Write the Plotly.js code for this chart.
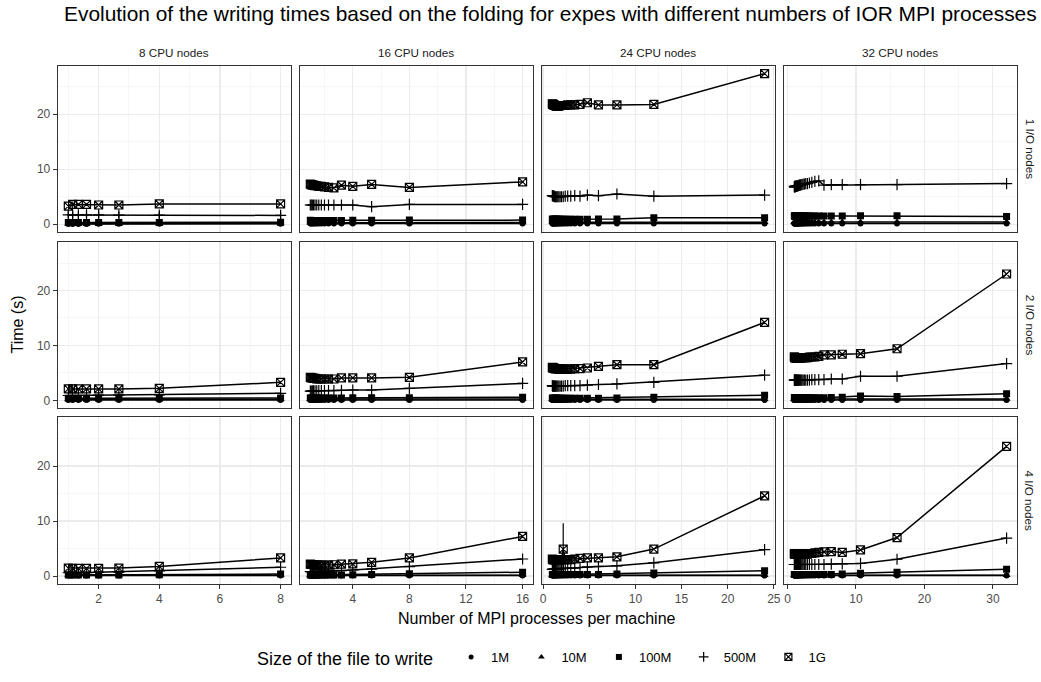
<!DOCTYPE html>
<html><head><meta charset="utf-8">
<script src="https://cdn.plot.ly/plotly-3.0.1.min.js"></script>
<style>body{margin:0;background:#fff}#chart{width:1041px;height:682px}</style>
</head><body><div id="chart"></div>
<script>
// ---------- categories ----------
const sizeLabels = ['1M', '10M', '100M', '500M', '1G'];
const cpuNodes = [8, 16, 24, 32];
const ioNodes = [1, 2, 4];
const colLabels = ['8 CPU nodes', '16 CPU nodes', '24 CPU nodes', '32 CPU nodes'];
const rowLabels = ['1 I/O nodes', '2 I/O nodes', '4 I/O nodes'];

// ---------- x values: MPI processes per machine ----------
const x8 = [8, 4, 2.667, 2, 1.6, 1.333, 1.143, 1];
const x16 = [16, 8, 5.333, 4, 3.2, 2.667, 2.286, 2, 1.778, 1.6, 1.455, 1.333, 1.231, 1.143, 1.067, 1];
const x24 = [24, 12, 8, 6, 4.8, 4, 3.429, 3, 2.667, 2.4, 2.182, 2, 1.846, 1.714, 1.6, 1.5, 1.412, 1.333, 1.263, 1.2, 1.143, 1.091, 1.043, 1];
const x32 = [32, 16, 10.667, 8, 6.4, 5.333, 4.571, 4, 3.556, 3.2, 2.909, 2.667, 2.462, 2.286, 2.133, 2, 1.882, 1.778, 1.684, 1.6, 1.524, 1.455, 1.391, 1.333, 1.28, 1.231, 1.185, 1.143, 1.103, 1.067, 1.032, 1];

// ---------- times (s), 1 I/O node ----------
const io1_cpu8_1M = [0.08, 0.07, 0.07, 0.07, 0.06, 0.06, 0.06, 0.06];
const io1_cpu8_10M = [0.12, 0.11, 0.1, 0.1, 0.1, 0.1, 0.1, 0.1];
const io1_cpu8_100M = [0.35, 0.33, 0.32, 0.3, 0.3, 0.3, 0.3, 0.3];
const io1_cpu8_500M = [1.6, 1.65, 1.65, 1.7, 1.7, 1.7, 1.7, 1.7];
const io1_cpu8_1G = [3.7, 3.7, 3.5, 3.5, 3.6, 3.6, 3.6, 3.3];

const io1_cpu16_1M = [0.15, 0.13, 0.12, 0.12, 0.12, 0.12, 0.12, 0.12, 0.12, 0.12, 0.12, 0.12, 0.12, 0.12, 0.12, 0.12];
const io1_cpu16_10M = [0.3, 0.28, 0.27, 0.27, 0.26, 0.26, 0.26, 0.26, 0.26, 0.26, 0.26, 0.26, 0.26, 0.26, 0.26, 0.26];
const io1_cpu16_100M = [0.75, 0.75, 0.72, 0.72, 0.7, 0.7, 0.7, 0.7, 0.7, 0.7, 0.7, 0.7, 0.7, 0.7, 0.7, 0.72];
const io1_cpu16_500M = [3.6, 3.6, 3.2, 3.5, 3.5, 3.5, 3.5, 3.5, 3.5, 3.5, 3.5, 3.5, 3.5, 3.5, 3.5, 3.5];
const io1_cpu16_1G = [7.7, 6.7, 7.25, 6.9, 7.1, 6.6, 6.7, 6.8, 6.9, 6.9, 7.0, 7.0, 7.1, 7.1, 7.2, 7.3];

const io1_cpu24_1M = [0.15, 0.15, 0.15, 0.15, 0.15, 0.15, 0.15, 0.15, 0.15, 0.15, 0.15, 0.15, 0.15, 0.15, 0.15, 0.15, 0.15, 0.15, 0.15, 0.15, 0.15, 0.15, 0.15, 0.15];
const io1_cpu24_10M = [0.35, 0.35, 0.35, 0.35, 0.35, 0.35, 0.35, 0.35, 0.35, 0.35, 0.35, 0.35, 0.35, 0.35, 0.35, 0.35, 0.35, 0.35, 0.35, 0.35, 0.35, 0.35, 0.35, 0.35];
const io1_cpu24_100M = [1.2, 1.2, 0.95, 0.95, 0.9, 0.9, 0.9, 0.9, 0.9, 0.9, 0.9, 0.9, 0.9, 0.9, 0.9, 0.9, 0.9, 0.9, 0.9, 0.9, 0.9, 0.9, 0.9, 0.9];
const io1_cpu24_500M = [5.3, 5.1, 5.5, 5.2, 5.3, 5.1, 5.2, 5.1, 5.1, 5.1, 5.0, 5.0, 5.0, 5.0, 5.0, 5.0, 5.0, 5.0, 5.0, 5.1, 5.1, 5.1, 5.2, 5.2];
const io1_cpu24_1G = [27.4, 21.8, 21.7, 21.7, 22.1, 21.8, 21.7, 21.7, 21.7, 21.6, 21.6, 21.6, 21.6, 21.5, 21.5, 21.5, 21.5, 21.6, 21.6, 21.7, 21.7, 21.8, 21.8, 21.9];

const io1_cpu32_1M = [0.15, 0.15, 0.15, 0.15, 0.15, 0.15, 0.15, 0.15, 0.15, 0.15, 0.15, 0.15, 0.15, 0.15, 0.15, 0.15, 0.15, 0.15, 0.15, 0.15, 0.15, 0.15, 0.15, 0.15, 0.15, 0.15, 0.15, 0.15, 0.15, 0.15, 0.15, 0.15];
const io1_cpu32_10M = [0.4, 0.4, 0.4, 0.4, 0.4, 0.4, 0.4, 0.4, 0.4, 0.4, 0.4, 0.4, 0.4, 0.4, 0.4, 0.4, 0.4, 0.4, 0.4, 0.4, 0.4, 0.4, 0.4, 0.4, 0.4, 0.4, 0.4, 0.4, 0.4, 0.4, 0.4, 0.4];
const io1_cpu32_100M = [1.4, 1.55, 1.55, 1.5, 1.5, 1.5, 1.5, 1.5, 1.5, 1.5, 1.5, 1.5, 1.5, 1.5, 1.5, 1.5, 1.5, 1.5, 1.5, 1.5, 1.5, 1.5, 1.5, 1.5, 1.5, 1.5, 1.5, 1.5, 1.5, 1.5, 1.5, 1.5];
const io1_cpu32_500M = [7.4, 7.2, 7.2, 7.2, 7.2, 7.1, 7.9, 7.8, 7.6, 7.5, 7.4, 7.4, 7.3, 7.3, 7.2, 7.2, 7.1, 7.1, 7.1, 7.0, 7.0, 7.0, 6.9, 6.9, 7.0, 6.9, 6.9, 6.9, 6.8, 6.8, 6.8, 6.9];
const io1_cpu32_1G = [];

// ---------- times (s), 2 I/O nodes ----------
const io2_cpu8_1M = [0.1, 0.1, 0.1, 0.1, 0.1, 0.1, 0.1, 0.1];
const io2_cpu8_10M = [0.2, 0.2, 0.2, 0.2, 0.2, 0.2, 0.2, 0.2];
const io2_cpu8_100M = [0.45, 0.4, 0.4, 0.4, 0.4, 0.4, 0.4, 0.4];
const io2_cpu8_500M = [1.3, 1.0, 0.95, 0.95, 0.9, 0.9, 0.9, 0.9];
const io2_cpu8_1G = [3.3, 2.2, 2.1, 2.1, 2.1, 2.1, 2.1, 2.1];

const io2_cpu16_1M = [0.1, 0.1, 0.1, 0.1, 0.1, 0.1, 0.1, 0.1, 0.1, 0.1, 0.1, 0.1, 0.1, 0.1, 0.1, 0.1];
const io2_cpu16_10M = [0.25, 0.25, 0.25, 0.25, 0.25, 0.25, 0.25, 0.25, 0.25, 0.25, 0.25, 0.25, 0.25, 0.25, 0.25, 0.25];
const io2_cpu16_100M = [0.6, 0.5, 0.5, 0.5, 0.45, 0.45, 0.45, 0.45, 0.45, 0.45, 0.45, 0.45, 0.45, 0.45, 0.45, 0.45];
const io2_cpu16_500M = [3.1, 2.2, 1.9, 1.9, 1.85, 1.8, 1.8, 1.8, 1.8, 1.8, 1.75, 1.75, 1.75, 1.75, 1.7, 1.7];
const io2_cpu16_1G = [7.0, 4.2, 4.1, 4.1, 4.1, 3.9, 3.9, 3.9, 3.9, 3.9, 3.9, 4.0, 4.0, 4.1, 4.1, 4.2];

const io2_cpu24_1M = [0.1, 0.1, 0.1, 0.1, 0.1, 0.1, 0.1, 0.1, 0.1, 0.1, 0.1, 0.1, 0.1, 0.1, 0.1, 0.1, 0.1, 0.1, 0.1, 0.1, 0.1, 0.1, 0.1, 0.1];
const io2_cpu24_10M = [0.2, 0.2, 0.2, 0.2, 0.2, 0.2, 0.2, 0.2, 0.2, 0.2, 0.2, 0.2, 0.2, 0.2, 0.2, 0.2, 0.2, 0.2, 0.2, 0.2, 0.2, 0.2, 0.2, 0.2];
const io2_cpu24_100M = [0.95, 0.6, 0.45, 0.4, 0.4, 0.4, 0.4, 0.4, 0.4, 0.4, 0.4, 0.4, 0.4, 0.4, 0.4, 0.4, 0.4, 0.4, 0.4, 0.4, 0.4, 0.4, 0.4, 0.4];
const io2_cpu24_500M = [4.6, 3.3, 3.0, 2.9, 2.8, 2.7, 2.7, 2.7, 2.7, 2.7, 2.6, 2.6, 2.6, 2.6, 2.6, 2.6, 2.6, 2.6, 2.6, 2.6, 2.6, 2.6, 2.6, 2.7];
const io2_cpu24_1G = [14.2, 6.5, 6.5, 6.2, 5.9, 5.8, 5.8, 5.7, 5.7, 5.7, 5.7, 5.7, 5.7, 5.7, 5.8, 5.8, 5.8, 5.8, 5.8, 5.9, 5.9, 5.9, 5.9, 6.0];

const io2_cpu32_1M = [0.1, 0.1, 0.1, 0.1, 0.1, 0.1, 0.1, 0.1, 0.1, 0.1, 0.1, 0.1, 0.1, 0.1, 0.1, 0.1, 0.1, 0.1, 0.1, 0.1, 0.1, 0.1, 0.1, 0.1, 0.1, 0.1, 0.1, 0.1, 0.1, 0.1, 0.1, 0.1];
const io2_cpu32_10M = [0.25, 0.25, 0.25, 0.25, 0.25, 0.25, 0.25, 0.25, 0.25, 0.25, 0.25, 0.25, 0.25, 0.25, 0.25, 0.25, 0.25, 0.25, 0.25, 0.25, 0.25, 0.25, 0.25, 0.25, 0.25, 0.25, 0.25, 0.25, 0.25, 0.25, 0.25, 0.25];
const io2_cpu32_100M = [1.2, 0.7, 0.8, 0.6, 0.55, 0.5, 0.5, 0.5, 0.5, 0.5, 0.5, 0.5, 0.5, 0.5, 0.5, 0.5, 0.5, 0.5, 0.5, 0.5, 0.5, 0.5, 0.5, 0.5, 0.5, 0.5, 0.5, 0.5, 0.5, 0.5, 0.5, 0.5];
const io2_cpu32_500M = [6.7, 4.4, 4.4, 3.9, 3.9, 3.8, 3.8, 3.8, 3.8, 3.7, 3.7, 3.7, 3.7, 3.7, 3.7, 3.7, 3.7, 3.7, 3.7, 3.7, 3.7, 3.7, 3.7, 3.7, 3.7, 3.7, 3.7, 3.7, 3.7, 3.7, 3.7, 3.7];
const io2_cpu32_1G = [23.0, 9.4, 8.5, 8.4, 8.3, 8.3, 8.0, 7.9, 7.9, 7.9, 7.8, 7.8, 7.8, 7.8, 7.8, 7.8, 7.8, 7.7, 7.7, 7.7, 7.7, 7.7, 7.7, 7.7, 7.7, 7.8, 7.8, 7.8, 7.8, 7.8, 7.9, 7.9];

// ---------- times (s), 4 I/O nodes ----------
const io4_cpu8_1M = [0.08, 0.08, 0.08, 0.08, 0.08, 0.08, 0.08, 0.08];
const io4_cpu8_10M = [0.15, 0.15, 0.15, 0.15, 0.15, 0.15, 0.15, 0.15];
const io4_cpu8_100M = [0.35, 0.25, 0.2, 0.2, 0.2, 0.2, 0.2, 0.2];
const io4_cpu8_500M = [1.6, 0.95, 0.7, 0.65, 0.6, 0.6, 0.6, 0.6];
const io4_cpu8_1G = [3.3, 1.75, 1.45, 1.4, 1.4, 1.4, 1.4, 1.45];

const io4_cpu16_1M = [0.08, 0.08, 0.08, 0.08, 0.08, 0.08, 0.08, 0.08, 0.08, 0.08, 0.08, 0.08, 0.08, 0.08, 0.08, 0.08];
const io4_cpu16_10M = [0.15, 0.15, 0.15, 0.15, 0.15, 0.15, 0.15, 0.15, 0.15, 0.15, 0.15, 0.15, 0.15, 0.15, 0.15, 0.15];
const io4_cpu16_100M = [0.7, 0.4, 0.3, 0.25, 0.2, 0.2, 0.2, 0.2, 0.2, 0.2, 0.2, 0.2, 0.2, 0.2, 0.2, 0.2];
const io4_cpu16_500M = [3.1, 1.7, 1.25, 1.1, 1.0, 0.95, 0.9, 0.9, 0.9, 0.85, 0.85, 0.85, 0.8, 0.8, 0.8, 0.8];
const io4_cpu16_1G = [7.2, 3.3, 2.5, 2.2, 2.15, 2.05, 2.0, 2.0, 2.0, 2.0, 2.0, 2.0, 2.05, 2.1, 2.1, 2.15];

const io4_cpu24_1M = [0.08, 0.08, 0.08, 0.08, 0.08, 0.08, 0.08, 0.08, 0.08, 0.08, 0.08, 0.08, 0.08, 0.08, 0.08, 0.08, 0.08, 0.08, 0.08, 0.08, 0.08, 0.08, 0.08, 0.08];
const io4_cpu24_10M = [0.15, 0.15, 0.15, 0.15, 0.15, 0.15, 0.15, 0.15, 0.15, 0.15, 0.15, 0.15, 0.15, 0.15, 0.15, 0.15, 0.15, 0.15, 0.15, 0.15, 0.15, 0.15, 0.15, 0.15];
const io4_cpu24_100M = [0.95, 0.55, 0.35, 0.3, 0.3, 0.3, 0.3, 0.3, 0.3, 0.3, 0.3, 0.3, 0.3, 0.3, 0.3, 0.3, 0.3, 0.3, 0.3, 0.3, 0.3, 0.3, 0.3, 0.3];
const io4_cpu24_500M = [4.8, 2.4, 1.85, 1.75, 1.65, 1.55, 1.45, 1.45, 1.4, 1.4, 1.4, 1.35, 1.35, 1.3, 1.3, 1.3, 1.3, 1.25, 1.25, 1.25, 1.2, 1.2, 1.2, 1.2];
const io4_cpu24_1G = [14.6, 4.9, 3.5, 3.3, 3.3, 3.2, 3.1, 3.0, 3.0, 3.0, 4.9, 3.0, 3.0, 3.0, 3.0, 3.0, 3.0, 3.0, 3.0, 3.0, 3.0, 3.0, 3.0, 3.1];

const io4_cpu32_1M = [0.08, 0.08, 0.08, 0.08, 0.08, 0.08, 0.08, 0.08, 0.08, 0.08, 0.08, 0.08, 0.08, 0.08, 0.08, 0.08, 0.08, 0.08, 0.08, 0.08, 0.08, 0.08, 0.08, 0.08, 0.08, 0.08, 0.08, 0.08, 0.08, 0.08, 0.08, 0.08];
const io4_cpu32_10M = [0.15, 0.15, 0.15, 0.15, 0.15, 0.15, 0.15, 0.15, 0.15, 0.15, 0.15, 0.15, 0.15, 0.15, 0.15, 0.15, 0.15, 0.15, 0.15, 0.15, 0.15, 0.15, 0.15, 0.15, 0.15, 0.15, 0.15, 0.15, 0.15, 0.15, 0.15, 0.15];
const io4_cpu32_100M = [1.25, 0.7, 0.5, 0.35, 0.3, 0.3, 0.3, 0.3, 0.3, 0.3, 0.3, 0.3, 0.3, 0.3, 0.3, 0.3, 0.3, 0.3, 0.3, 0.3, 0.3, 0.3, 0.3, 0.3, 0.3, 0.3, 0.3, 0.3, 0.3, 0.3, 0.3, 0.3];
const io4_cpu32_500M = [6.9, 3.05, 2.3, 2.2, 2.15, 2.1, 2.1, 2.1, 2.1, 2.1, 2.1, 2.1, 2.1, 2.1, 2.1, 2.1, 2.1, 2.1, 2.1, 2.1, 2.1, 2.1, 2.1, 2.1, 2.1, 2.1, 2.1, 2.1, 2.1, 2.1, 2.1, 2.1];
const io4_cpu32_1G = [23.6, 7.0, 4.75, 4.3, 4.45, 4.4, 4.3, 4.2, 4.1, 4.1, 4.0, 4.0, 4.0, 4.0, 4.0, 4.0, 4.0, 4.0, 4.0, 4.0, 4.0, 4.0, 4.0, 4.0, 4.0, 4.0, 4.0, 4.0, 4.0, 4.0, 4.0, 4.1];

// ---------- error bars (half-widths, s) where visible ----------
const io1_cpu8_500M_err = [0.6, 0.6, 0.6, 0.6, 0.6, 0.6, 0.6, 0.6];
const io4_cpu24_1G_err = [0, 0, 0, 0, 0, 0, 0, 0, 0, 0, 4.7, 0, 0, 0, 0, 0, 0, 0, 0, 0, 0, 0, 0, 0];

// ---------- assemble ----------
const xByCpu = {8: x8, 16: x16, 24: x24, 32: x32};
const panels = {
  io1_cpu8: [io1_cpu8_1M, io1_cpu8_10M, io1_cpu8_100M, io1_cpu8_500M, io1_cpu8_1G],
  io1_cpu16: [io1_cpu16_1M, io1_cpu16_10M, io1_cpu16_100M, io1_cpu16_500M, io1_cpu16_1G],
  io1_cpu24: [io1_cpu24_1M, io1_cpu24_10M, io1_cpu24_100M, io1_cpu24_500M, io1_cpu24_1G],
  io1_cpu32: [io1_cpu32_1M, io1_cpu32_10M, io1_cpu32_100M, io1_cpu32_500M, io1_cpu32_1G],
  io2_cpu8: [io2_cpu8_1M, io2_cpu8_10M, io2_cpu8_100M, io2_cpu8_500M, io2_cpu8_1G],
  io2_cpu16: [io2_cpu16_1M, io2_cpu16_10M, io2_cpu16_100M, io2_cpu16_500M, io2_cpu16_1G],
  io2_cpu24: [io2_cpu24_1M, io2_cpu24_10M, io2_cpu24_100M, io2_cpu24_500M, io2_cpu24_1G],
  io2_cpu32: [io2_cpu32_1M, io2_cpu32_10M, io2_cpu32_100M, io2_cpu32_500M, io2_cpu32_1G],
  io4_cpu8: [io4_cpu8_1M, io4_cpu8_10M, io4_cpu8_100M, io4_cpu8_500M, io4_cpu8_1G],
  io4_cpu16: [io4_cpu16_1M, io4_cpu16_10M, io4_cpu16_100M, io4_cpu16_500M, io4_cpu16_1G],
  io4_cpu24: [io4_cpu24_1M, io4_cpu24_10M, io4_cpu24_100M, io4_cpu24_500M, io4_cpu24_1G],
  io4_cpu32: [io4_cpu32_1M, io4_cpu32_10M, io4_cpu32_100M, io4_cpu32_500M, io4_cpu32_1G]
};
const errors = {
  io1_cpu8_500M: io1_cpu8_500M_err,
  io4_cpu24_1G: io4_cpu24_1G_err
};

// ---------- styles ----------
const W = 1041, H = 682;
const FONT = '"Liberation Sans", Arial, Helvetica, sans-serif';
const symbols = ['circle', 'triangle-up', 'square', 'cross-thin-open', 'square-x-open'];
const msize = [6, 7, 7, 8, 8];
const colL = [57.7, 299.7, 541.7, 783.7], colW = 233.5;
const rowT = [65.5, 241.7, 417.3], rowH = 166.3;
const xRanges = [[0.65, 8.35], [0.25, 16.75], [-0.15, 25.15], [-0.55, 33.55]];
const xDtick = [2, 4, 5, 10];
const yRange = [-1.375, 28.875];

const traces = [];
const layout = {
  width: W, height: H,
  margin: {l: 0, r: 0, t: 0, b: 0},
  paper_bgcolor: '#ffffff', plot_bgcolor: '#ffffff',
  font: {family: FONT, color: '#000000'},
  showlegend: true,
  legend: {
    orientation: 'h', x: 255 / W, xanchor: 'left', y: 1 - 659 / H, yanchor: 'middle',
    title: {text: 'Size of the file to write  ', side: 'left', font: {size: 18, family: FONT, color: '#000'}},
    font: {size: 13, family: FONT, color: '#000'},
    bgcolor: 'rgba(0,0,0,0)', itemsizing: 'trace', tracegroupgap: 0
  },
  annotations: []
};

ioNodes.forEach((io, r) => {
  cpuNodes.forEach((cpu, c) => {
    const p = r * 4 + c;
    const id = p + 1;
    const xa = id === 1 ? 'xaxis' : 'xaxis' + id;
    const ya = id === 1 ? 'yaxis' : 'yaxis' + id;
    const xref = id === 1 ? 'x' : 'x' + id;
    const yref = id === 1 ? 'y' : 'y' + id;
    layout[xa] = {
      domain: [colL[c] / W, (colL[c] + colW) / W], anchor: yref,
      range: xRanges[c], tick0: 0, dtick: xDtick[c],
      showticklabels: r === 2, ticks: r === 2 ? 'outside' : '', ticklen: 4, tickwidth: 1, tickcolor: '#333333',
      tickfont: {size: 12, color: '#4D4D4D', family: FONT},
      showgrid: true, gridcolor: '#EBEBEB', gridwidth: 1.2,
      minor: {dtick: xDtick[c] / 2, tick0: 0, showgrid: true, gridcolor: '#F2F2F2', gridwidth: 0.7},
      showline: true, mirror: true, linecolor: '#333333', linewidth: 1,
      zeroline: false, fixedrange: true
    };
    layout[ya] = {
      domain: [1 - (rowT[r] + rowH) / H, 1 - rowT[r] / H], anchor: xref,
      range: yRange, tick0: 0, dtick: 10,
      showticklabels: c === 0, ticks: c === 0 ? 'outside' : '', ticklen: 4, tickwidth: 1, tickcolor: '#333333',
      tickfont: {size: 12, color: '#4D4D4D', family: FONT},
      showgrid: true, gridcolor: '#EBEBEB', gridwidth: 1.2,
      minor: {dtick: 5, tick0: 0, showgrid: true, gridcolor: '#F2F2F2', gridwidth: 0.7},
      showline: true, mirror: true, linecolor: '#333333', linewidth: 1,
      zeroline: false, fixedrange: true
    };
    const key = 'io' + io + '_cpu' + cpu;
    const series = panels[key];
    const xv = xByCpu[cpu];
    series.forEach((yv, s) => {
      if (!yv.length) return;
      const err = errors[key + '_' + sizeLabels[s]];
      const open = s >= 3;
      const t = {
        type: 'scatter', mode: 'lines+markers',
        x: xv.slice(0, yv.length), y: yv,
        xaxis: xref, yaxis: yref,
        line: {color: '#000000', width: 1.5},
        marker: {symbol: symbols[s], size: msize[s], color: '#000000',
                 line: {color: '#000000', width: open ? 1.2 : 0}},
        showlegend: false, hoverinfo: 'skip', cliponaxis: true
      };
      if (err) t.error_y = {type: 'data', array: err, visible: true, color: '#000000', thickness: 1.2, width: 0};
      traces.push(t);
    });
  });
});

// legend-only traces
sizeLabels.forEach((lab, s) => {
  traces.push({
    type: 'scatter', mode: 'markers', x: [null], y: [null], xaxis: 'x', yaxis: 'y',
    name: lab + '  ', showlegend: true, hoverinfo: 'skip',
    marker: {symbol: symbols[s], size: msize[s] - 1, color: '#000000',
             line: {color: '#000000', width: s >= 3 ? 1.2 : 0}}
  });
});

// strip labels
cpuNodes.forEach((cpu, c) => {
  layout.annotations.push({
    text: colLabels[c], xref: 'paper', yref: 'paper',
    x: (colL[c] + colW / 2) / W, y: 1 - 52 / H, xanchor: 'center', yanchor: 'middle',
    showarrow: false, font: {size: 11.7, color: '#1A1A1A', family: FONT}
  });
});
ioNodes.forEach((io, r) => {
  layout.annotations.push({
    text: rowLabels[r], xref: 'paper', yref: 'paper',
    x: 1030 / W, y: 1 - (rowT[r] + rowH / 2) / H, xanchor: 'center', yanchor: 'middle',
    textangle: 90, showarrow: false, font: {size: 11.7, color: '#1A1A1A', family: FONT}
  });
});
// title and axis titles
layout.annotations.push({
  text: 'Evolution of the writing times based on the folding for expes with different numbers of IOR MPI processes',
  xref: 'paper', yref: 'paper', x: 62 / W, y: 1 - 14 / H, xanchor: 'left', yanchor: 'middle',
  showarrow: false, font: {size: 20.9, color: '#000', family: FONT}
});
layout.annotations.push({
  text: 'Time (s)', xref: 'paper', yref: 'paper', x: 18 / W, y: 1 - (rowT[0] + rowT[2] + rowH) / 2 / H,
  xanchor: 'center', yanchor: 'middle', textangle: -90, showarrow: false,
  font: {size: 16, color: '#000', family: FONT}
});
layout.annotations.push({
  text: 'Number of MPI processes per machine', xref: 'paper', yref: 'paper',
  x: (colL[0] + colL[3] + colW) / 2 / W, y: 1 - 618 / H, xanchor: 'center', yanchor: 'middle',
  showarrow: false, font: {size: 16, color: '#000', family: FONT}
});

Plotly.newPlot('chart', traces, layout, {staticPlot: true, displayModeBar: false});
</script>
</body></html>
